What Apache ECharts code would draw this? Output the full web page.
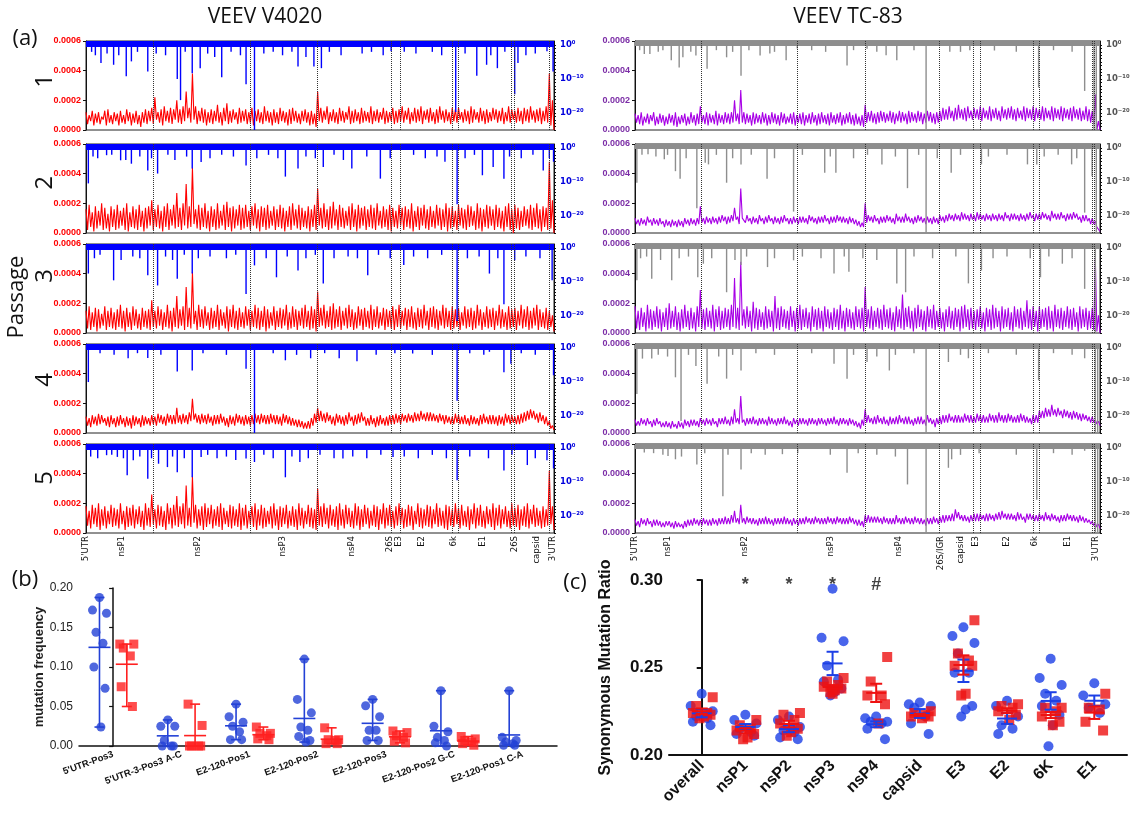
<!DOCTYPE html>
<html><head><meta charset="utf-8">
<script src="https://cdn.jsdelivr.net/npm/echarts@6/dist/echarts.min.js"></script>
<style>html,body{margin:0;padding:0;background:#fff}#c{width:1139px;height:826px}</style>
</head><body><div id="c"></div>
<script>
// ---------- panel (a): mutation frequency (units of 1e-5), upper / lower value in each of 150 genome windows ----------
const hiV1 = [12,10,13,11,12,9,13,14,10,12, 11,13,10,14,12,11,13,10,12,14, 13,15,22,12,14,16,13,15,14,20, 14,16,26,15,38,16,13,15,14,12, 14,13,17,12,15,18,13,14,12,15, 13,14,12,15,13,14,12,16,13,12, 14,12,15,13,12,14,15,13,11,13, 14,12,13,11,26,15,13,16,12,14, 12,15,13,12,16,13,14,12,15,13, 12,16,13,14,12,15,13,12,15,13, 14,16,13,15,12,15,14,16,13,14, 15,12,14,16,13,14,12,15,14,15, 12,14,13,16,14,12,15,13,14,12, 15,14,13,15,12,16,14,13,15,13, 15,14,16,13,14,15,13,16,38,20];
const loV1 = [4,6,3,5,4,7,3,5,4,6, 3,5,4,6,3,5,4,2,5,4, 6,4,7,5,3,6,5,4,7,5, 4,6,8,5,7,4,6,5,3,5, 4,6,5,3,6,4,5,7,4,5, 6,4,5,3,6,5,4,6,5,3, 5,4,6,5,3,4,6,5,4,6, 5,3,4,2,6,5,7,4,6,5, 4,6,5,7,4,5,6,4,5,6, 5,4,6,5,7,4,5,6,4,5, 6,5,7,4,6,5,6,4,7,5, 6,4,5,7,5,6,4,6,5,7, 5,6,4,5,7,5,6,4,5,6, 7,5,6,4,6,5,7,5,6,4, 6,5,7,5,6,4,6,5,3,0];
const hiV2 = [16,19,14,18,15,20,17,13,18,16, 19,15,17,20,14,18,16,19,15,17, 18,22,16,19,15,18,20,16,19,27, 17,20,33,18,44,16,19,17,20,15, 18,16,20,15,19,21,17,18,16,19, 17,19,15,18,20,16,18,17,19,15, 18,16,19,17,15,18,20,16,19,17, 15,18,16,19,30,17,20,16,18,21, 16,19,17,15,18,20,16,19,17,18, 16,19,17,20,15,18,16,19,17,15, 19,17,18,16,20,15,18,17,19,16, 18,15,19,17,16,20,17,18,15,19, 17,16,19,18,15,20,17,16,19,18, 16,19,17,15,18,20,16,19,17,15, 18,16,19,17,20,16,18,17,48,22];
const loV2 = [2,4,1,3,5,2,3,1,4,2, 3,5,2,1,4,3,2,4,1,3, 5,2,4,3,1,4,2,5,3,4, 2,5,3,4,6,3,2,4,3,1, 4,2,3,5,2,4,1,3,5,2, 3,4,2,5,3,1,4,2,3,5, 2,4,3,1,4,2,5,3,2,4, 3,1,4,2,5,3,4,2,3,5, 2,4,3,5,2,4,1,3,5,2, 4,3,2,5,3,4,2,1,4,3, 5,2,4,3,1,4,2,5,3,2, 4,3,5,2,4,1,3,4,2,5, 3,2,4,5,2,3,1,4,3,5, 2,4,3,1,4,2,0,3,2,4, 5,3,2,4,3,1,4,2,3,0];
const hiV3 = [15,18,14,17,16,13,18,15,17,14, 16,19,15,17,14,18,16,13,17,15, 16,22,15,18,16,14,19,15,17,25, 16,18,31,17,41,15,19,16,18,14, 17,15,19,16,14,18,16,19,15,17, 14,18,16,15,19,17,15,18,16,14, 18,15,17,16,19,14,18,16,15,17, 19,15,18,16,28,17,19,15,18,20, 16,18,15,17,19,16,14,18,16,17, 15,19,16,18,14,17,16,15,18,16, 19,15,17,16,18,14,17,16,19,15, 17,18,16,15,19,17,15,18,16,17, 14,18,16,17,15,19,16,14,18,16, 17,15,19,16,14,18,16,17,15,19, 16,18,15,17,19,16,14,17,15,12];
const loV3 = [3,2,4,1,3,5,2,4,3,2, 4,3,1,4,2,5,3,2,4,3, 2,4,3,5,2,4,3,1,4,3, 5,2,4,3,6,2,4,3,5,2, 3,4,2,5,3,1,4,3,2,4, 3,5,2,4,3,2,4,1,3,5, 2,4,3,5,2,3,4,2,5,3, 4,2,3,1,4,5,3,4,2,3, 4,2,5,3,4,2,3,5,2,4, 3,2,4,3,5,2,4,3,2,4, 3,5,2,4,3,2,4,3,5,2, 4,3,2,5,3,4,2,3,4,2, 5,3,4,2,3,5,2,4,3,4, 2,5,3,4,2,3,4,2,5,3, 4,2,3,5,2,4,3,2,4,1];
const hiV4 = [11,10,12,11,13,12,10,11,12,10, 11,12,10,11,10,12,11,10,12,11, 10,12,11,13,12,11,13,12,12,17, 12,13,12,14,23,13,12,13,12,13, 11,12,12,13,11,10,12,11,13,12, 11,12,11,12,13,12,13,12,12,13, 12,12,11,13,12,11,10,9,9,8, 7,8,10,13,17,15,13,14,12,11, 13,12,11,12,14,11,12,13,14,11, 10,12,10,11,12,10,11,12,12,13, 12,13,12,13,12,14,13,15,13,14, 14,13,12,13,12,12,11,11,13,12, 11,12,10,12,11,10,12,13,11,12, 12,11,12,11,13,12,12,11,12,13, 14,15,16,15,13,14,12,11,8,5];
const loV4 = [5,4,6,5,6,7,5,4,6,4, 5,6,4,5,3,5,6,4,5,6, 5,6,5,7,6,5,7,6,6,7, 6,7,6,8,9,7,6,7,6,7, 5,6,6,7,5,4,6,5,7,6, 5,6,5,6,7,6,7,6,6,7, 6,6,5,7,6,5,5,4,4,3, 3,3,5,7,8,8,7,8,6,5, 7,6,5,6,8,5,6,7,8,5, 5,6,4,5,6,5,5,6,6,7, 6,8,7,8,7,8,8,9,8,8, 8,8,7,8,6,7,6,6,7,6, 6,6,5,6,6,5,6,7,6,6, 6,5,6,5,7,6,7,6,6,7, 8,9,10,9,7,8,6,5,3,2];
const hiV5 = [18,15,19,17,20,16,18,15,19,17, 16,20,15,18,17,19,16,18,15,20, 17,26,16,19,18,15,20,17,19,25, 18,20,32,17,38,19,16,18,20,17, 19,16,18,20,17,15,19,18,16,20, 17,19,15,18,20,16,19,17,15,18, 20,16,18,17,19,15,18,16,20,17, 15,19,17,16,30,18,20,17,19,16, 18,20,16,19,17,15,20,18,16,19, 17,15,19,18,16,20,17,19,15,18, 20,17,16,19,18,15,20,17,16,19, 18,16,20,17,15,19,18,16,20,17, 19,15,18,16,20,17,19,15,18,16, 20,17,19,16,18,15,20,17,19,16, 18,20,16,19,17,15,18,16,42,18];
const loV5 = [5,3,6,4,2,5,3,6,4,5, 3,6,2,4,5,3,6,4,2,5, 4,6,3,5,4,2,6,3,5,4, 6,3,5,4,7,3,5,2,4,6, 3,5,4,2,6,4,3,5,4,2, 5,3,6,4,2,5,3,4,6,3, 5,2,4,6,3,5,4,2,5,3, 6,4,3,2,5,4,6,3,5,4, 2,5,3,6,4,3,5,2,4,6, 3,5,4,2,6,3,5,4,3,5, 6,3,4,5,2,6,4,3,5,4, 3,6,4,5,3,2,5,4,6,3, 5,4,2,6,3,5,4,3,6,4, 2,5,3,6,4,3,5,4,2,5, 4,3,6,4,5,3,4,5,6,2];
const hiT1 = [11,10,12,9,11,10,12,9,11,10, 9,11,10,12,9,10,11,9,12,10, 11,16,10,12,11,10,13,11,10,12, 11,12,20,11,27,12,11,10,12,11, 10,12,11,10,12,11,10,12,11,9, 11,12,10,11,12,10,11,12,10,11, 12,10,11,12,10,11,12,10,11,12, 10,11,9,10,17,12,13,11,12,13, 12,11,13,12,11,13,12,11,13,12, 11,13,12,11,13,12,11,12,13,15, 14,16,13,15,17,14,15,16,13,15, 14,16,15,13,16,14,15,13,16,14, 15,16,14,15,13,16,15,14,16,15, 14,16,15,13,16,15,14,16,15,14, 15,16,14,15,13,16,14,13,24,6];
const loT1 = [5,4,3,5,4,6,3,4,5,3, 4,5,3,2,4,5,3,4,5,3, 4,5,4,3,5,4,3,5,4,5, 4,5,6,4,5,4,5,3,4,5, 4,5,3,4,5,4,3,5,4,5, 4,3,5,4,3,5,4,5,3,4, 5,4,3,5,4,5,3,4,5,4, 3,4,3,2,5,6,5,4,5,6, 5,6,5,4,6,5,6,4,5,6, 5,6,4,5,6,5,4,5,6,7, 7,8,6,7,8,7,6,8,7,8, 7,6,8,7,6,8,7,6,8,7, 8,7,6,8,7,6,8,7,6,8, 7,6,8,7,6,8,7,6,8,7, 6,8,7,6,7,6,5,4,0,0];
const hiT2 = [10,9,10,9,11,9,10,9,10,8, 9,8,9,8,9,8,10,9,10,9, 10,18,10,11,10,11,10,11,12,11, 11,12,17,11,30,11,12,10,11,10, 12,10,11,12,10,11,10,11,12,10, 10,11,10,11,11,10,12,11,10,11, 11,12,10,11,11,12,11,11,10,11, 10,9,8,7,20,12,11,12,10,11, 11,12,11,10,13,11,11,13,11,10, 11,12,11,10,11,10,11,10,12,11, 12,13,12,13,12,14,13,12,13,12, 14,13,12,13,12,13,12,13,12,14, 12,13,13,12,13,12,13,14,12,13, 13,14,13,12,15,13,13,14,12,13, 13,14,13,11,12,12,10,10,8,4];
const loT2 = [6,5,6,5,7,5,6,5,6,4, 5,4,5,4,5,4,6,5,6,5, 6,7,6,7,6,7,6,7,8,6, 7,8,9,6,10,7,8,6,7,6, 8,6,7,8,6,7,6,7,8,6, 6,7,6,7,7,6,8,7,6,7, 7,8,6,7,7,8,7,7,6,7, 6,5,4,4,7,8,7,8,6,7, 7,8,7,6,8,7,7,8,7,6, 7,8,7,6,7,6,7,6,8,7, 8,9,8,9,8,9,9,8,9,8, 9,9,8,9,8,9,8,9,8,10, 8,9,9,8,9,8,9,10,8,9, 9,10,9,8,10,9,9,10,8,9, 9,10,9,7,8,8,6,6,4,1];
const hiT3 = [18,15,17,14,19,16,15,18,16,14, 17,20,15,18,14,16,19,15,17,14, 18,29,16,17,15,19,16,18,15,17, 16,19,37,17,48,16,18,15,21,17, 16,14,18,16,15,25,17,18,16,15, 18,15,17,19,16,17,14,18,16,17, 15,18,16,14,17,16,19,15,17,16, 14,18,16,17,31,16,18,15,17,16, 19,16,17,14,18,16,26,17,18,15, 17,19,16,15,18,16,19,15,17,14, 16,18,15,17,16,18,19,16,17,15, 16,18,14,17,16,19,17,15,18,16, 17,14,18,16,17,15,22,16,18,15, 18,16,17,18,15,19,16,17,15,18, 16,17,14,18,16,17,15,17,50,12];
const loT3 = [3,2,4,1,3,2,4,3,1,4, 2,3,4,2,1,3,4,2,3,1, 4,3,2,4,3,1,4,2,3,4, 2,4,3,2,5,3,4,1,3,2, 4,2,3,4,1,3,2,4,3,2, 4,1,3,2,4,3,1,4,2,3, 1,4,3,2,4,2,3,1,4,3, 2,4,3,1,4,3,2,4,3,2, 4,3,2,1,4,3,2,4,3,1, 3,4,2,1,4,3,2,4,3,1, 4,3,2,4,1,3,4,2,3,2, 4,3,1,4,2,3,4,1,3,4, 2,1,4,3,2,4,3,2,4,1, 3,4,2,3,1,4,3,2,4,3, 2,4,1,3,4,2,3,2,1,0];
const hiT4 = [9,8,10,9,10,8,9,10,8,7, 8,7,8,6,8,7,9,8,9,9, 8,10,9,10,9,10,8,10,10,11, 9,11,16,10,25,9,10,10,11,9, 10,10,9,11,10,9,10,10,11,9, 8,10,9,10,10,9,10,10,9,10, 10,9,10,10,11,9,10,10,9,10, 9,8,7,9,16,12,10,11,12,10, 11,9,11,10,11,12,10,11,11,9, 10,11,11,9,12,10,9,10,11,12, 12,13,11,12,12,11,13,12,12,11, 13,12,12,11,13,12,12,14,12,12, 13,12,11,12,13,12,11,10,12,12, 15,15,17,16,19,16,17,15,16,15, 14,15,14,13,13,12,11,11,9,8];
const loT4 = [5,5,6,5,6,4,5,6,4,4, 4,3,4,3,4,3,5,4,5,5, 4,6,5,6,5,6,4,6,6,6, 5,6,7,6,7,5,6,6,6,5, 6,6,5,6,6,5,6,6,6,5, 4,6,5,6,6,5,6,6,5,6, 6,5,6,6,6,5,6,6,5,6, 5,4,3,5,7,7,6,6,7,6, 6,5,6,6,6,7,6,6,6,5, 6,6,6,5,7,6,4,6,6,7, 7,8,7,7,7,7,8,7,7,7, 8,7,7,7,8,7,7,8,7,7, 8,7,7,7,8,7,7,6,7,7, 10,10,11,11,12,11,12,10,11,10, 9,10,9,8,9,8,7,7,6,5];
const hiT5 = [9,8,10,9,10,8,9,9,8,7, 8,8,7,8,7,6,8,9,9,10, 9,9,10,9,9,10,9,10,10,11, 10,12,15,10,19,10,11,10,10,9, 10,10,11,10,9,10,10,10,11,10, 9,10,9,10,10,11,10,10,11,10, 10,10,11,10,10,11,10,10,10,11, 10,9,9,8,12,12,11,11,11,10, 11,10,10,10,12,10,10,11,10,10, 11,10,10,9,10,10,11,10,11,12, 12,12,13,16,14,12,12,11,12,13, 13,13,12,13,13,12,13,14,15,13, 13,13,12,14,13,11,13,13,12,12, 13,12,14,12,13,12,11,12,12,13, 12,12,11,12,11,10,9,8,7,6];
const loT5 = [5,4,6,5,6,4,5,5,4,4, 5,4,3,4,4,3,4,5,5,6, 5,5,6,5,5,6,5,6,6,6, 6,7,7,6,7,6,7,6,6,5, 6,6,6,6,5,6,6,6,6,6, 5,6,5,6,6,7,6,6,7,6, 6,6,7,6,6,7,6,6,6,7, 6,5,5,4,7,7,7,7,7,6, 7,6,6,6,7,6,6,7,6,6, 7,6,6,5,6,6,7,6,7,7, 8,8,8,10,9,8,8,7,8,8, 8,9,8,8,9,8,9,9,10,9, 9,9,8,9,9,7,9,9,8,8, 9,8,9,8,9,8,7,8,8,9, 8,8,7,8,7,7,6,5,4,3];

// p-value spikes: [genome position (0-1000), -log10(p)]
const spikesV1 = [[32,5.3],[59,5.8],[86,9.2],[97,4.8],[132,7.8],[195,10],[202,16.2],[227,8.3],[244,6.8],[290,9.5],[342,11.5],[360,25],[453,6.3],[487,6.3],[503,6.8],[652,1.8],[790,19.7],[835,9],[856,5.8],[879,6.8],[916,14.5],[923,5.3],[985,1.8],[998,7.8],
[12,2],[20,3],[45,2.5],[70,3],[110,2],[150,2.5],[170,3],[212,2],[260,2.5],[275,3.5],[310,2],[330,3],[380,2.5],[400,2],[420,3],[440,2],[470,3.5],[520,2],[545,3],[590,2.5],[610,2],[635,3],[680,2],[705,2.5],[740,2],[760,3],[810,2.5],[865,3],[895,2],[940,3],[960,2.5]];
const spikesV2 = [[5,10.4],[44,2.1],[74,3.6],[97,4.6],[132,6.6],[153,7.5],[227,6],[246,4.1],[342,5.1],[426,8.4],[453,6],[507,5.6],[568,6],[629,9],[767,4],[793,16.5],[847,8],[870,5.6],[893,9],[977,6.6],[999,4],
[15,2.5],[25,3],[55,2],[85,3.5],[115,2.5],[140,3],[175,2],[190,3.5],[215,2.5],[265,3],[290,2],[315,2.5],[365,3],[390,2],[410,3],[470,2.5],[490,3],[530,2],[550,3.5],[600,2.5],[650,3],[700,2],[725,3],[750,2.5],[810,3],[830,2],[905,2.5],[930,3],[955,2],[990,3]];
const spikesV3 = [[5,7.5],[59,9.5],[132,8],[153,11],[195,9],[227,7.5],[342,13.5],[360,5.1],[407,8.6],[453,6.6],[507,10.4],[602,8],[679,5],[793,21.5],[862,7.5],[893,16.5],[916,3.6],[996,9.5],
[18,3],[30,2],[75,3.5],[100,2.5],[115,3],[170,2.5],[185,3.5],[210,2],[240,3],[265,2.5],[300,3],[320,2],[385,3],[430,2.5],[470,3],[490,2],[530,3],[560,2.5],[580,3],[625,2],[650,3],[700,2.5],[730,3],[760,2],[815,3],[840,2.5],[880,3],[940,2.5],[970,3]];
const spikesV4 = [[5,10],[90,3],[132,2.9],[195,6.9],[227,6.6],[342,6.1],[360,25],[426,3.6],[480,3],[541,3],[579,3.9],[698,1.6],[793,15.5],[862,1.1],[893,7.1],[908,4.6],[989,0.5],[999,8],
[30,1.5],[60,2],[110,1.5],[160,2],[250,1.5],[300,2],[400,1.5],[450,2],[510,1.5],[620,2],[660,1.5],[740,2],[820,1.5],[850,2],[930,1.5],[960,2]];
const spikesV5 = [[44,2.1],[67,2.6],[88,8],[101,3.6],[132,9],[155,4.6],[174,5.6],[195,7.1],[227,8.6],[246,2.6],[342,3.1],[360,4.1],[426,8.6],[457,4.1],[549,3.1],[656,2.6],[793,9.5],[893,6.6],[943,5],[985,3.6],[999,6],
[10,2.5],[25,3],[55,2],[80,3],[115,2.5],[140,3],[185,2.5],[210,3],[260,2],[280,3],[300,2.5],[320,3.5],[380,2],[400,3],[440,2.5],[475,3],[500,2],[530,3],[570,2.5],[600,3],[630,2],[680,2.5],[710,3],[740,2],[770,3],[820,2.5],[860,3],[910,2],[960,3]];
const spikesT1 = [[20,2.6],[32,2.6],[78,4.5],[95,6.6],[103,3.6],[131,3.1],[143,1],[155,7],[197,3.6],[228,9],[269,3.1],[325,4.5],[349,1],[456,6],[499,1.1],[563,4.5],[626,25],[677,2],[773,1.6],[868,12.5],[967,13.5],[987,25],[992,25],
[10,1.5],[50,2],[60,1.5],[120,2],[175,1.5],[210,2],[245,1.5],[290,2.5],[300,2],[380,1.5],[410,2],[470,1.5],[520,2],[540,3],[600,1.5],[700,2],[720,1.5],[820,2],[900,1.5],[940,2]];
const spikesT2 = [[4,10.2],[28,1.8],[63,3.3],[87,6.8],[97,9],[133,17.7],[151,4.3],[158,4.8],[197,10.2],[228,4.8],[284,9],[341,18.7],[408,7.3],[432,7.3],[531,4.8],[586,11.8],[626,25],[680,7.3],[745,4.8],[844,4.8],[864,4.8],[939,4.8],[967,19],[983,8.3],[992,25],
[15,2],[45,2.5],[70,2],[110,3],[175,2],[210,3],[250,2],[300,3],[360,2],[420,2.5],[470,3],[500,2],[560,2.5],[610,2],[650,3],[700,2],[760,2.5],[800,2],[880,2.5],[910,2],[950,3]];
const spikesT3 = [[4,9.5],[36,9],[79,9.5],[135,8.6],[147,4.6],[197,13],[228,5],[285,5.6],[341,3.6],[428,7.5],[460,7],[563,10.4],[582,13],[717,10.4],[745,6.6],[872,8.6],[919,4.6],[967,12],[990,25],
[12,3],[25,2.5],[55,3.5],[95,3],[115,2.5],[165,3],[215,3.5],[240,2.5],[300,3],[360,2.5],[400,3],[450,2.5],[490,3],[520,3.5],[600,2.5],[640,3],[690,2.5],[770,3],[800,2.5],[850,3],[890,2.5],[940,3]];
const spikesT4 = [[4,13.5],[16,3.1],[36,3.1],[87,8.6],[99,21.5],[131,5.3],[155,10.5],[197,9],[228,6.6],[428,4.6],[456,9],[499,4.1],[547,6.6],[626,25],[674,4.1],[717,3],[868,9.5],[967,3],[990,25],[995,25],
[50,2],[70,2.5],[115,2],[180,2.5],[210,2],[260,1.5],[300,2],[380,1.5],[470,2],[520,2.5],[560,2],[600,1.5],[700,2],[760,1.5],[820,2],[900,1.5],[940,2]];
const spikesT5 = [[20,1.3],[71,2.3],[87,3.3],[133,4.8],[189,14.2],[228,6.3],[317,1.8],[456,7.3],[586,10.7],[626,25],[674,5.8],[681,3.3],[864,15.2],[967,0.8],[990,25],[995,25],
[40,1.5],[60,2],[100,2.5],[150,1.5],[200,2],[250,1.5],[280,2],[350,1.5],[420,2],[480,1.5],[520,2],[560,2.5],[700,2],[740,1.5],[820,2],[900,1.5],[940,2]];

const boundariesV = [143,350,495,653,671,782,795,909,916,990];
const boundariesT = [143,349,495,654,727,743,856,869,983,988];
const genesV = ["5'UTR","nsP1","nsP2","nsP3","nsP4","26S","E3","E2","6k","E1","26S","capsid","3'UTR"];
const genePosV = [0,75,239,419,568,648,667,717,786,847,916,962,996];
const genesT = ["5'UTR","nsP1","nsP2","nsP3","nsP4","26S/IGR","capsid","E3","E2","6k","E1","3'UTR"];
const genePosT = [0,71,235,420,567,658,701,733,800,860,931,990];
const pTickLabels = ['10\u2070','10\u207B\u00B9\u2070','10\u207B\u00B2\u2070'];
const passages = ['1','2','3','4','5'];

// ---------- panel (b) ----------
const catsB = ["5'UTR-Pos3","5'UTR-3-Pos3 A-C","E2-120-Pos1","E2-120-Pos2","E2-120-Pos3","E2-120-Pos2 G-C","E2-120-Pos1 C-A"];
const freqBlue = [
 [0.188,0.172,0.168,0.144,0.130,0.100,0.073,0.024],
 [0.033,0.025,0.025,0.007,0,0,0],
 [0.053,0.037,0.030,0.025,0.018,0.008,0.008],
 [0.110,0.059,0.042,0.024,0.020,0.012,0.007,0.005],
 [0.059,0.051,0.037,0.020,0.020,0.007,0.007],
 [0.070,0.025,0.018,0.011,0.007,0.004,0],
 [0.070,0.011,0.007,0.005,0.003,0.001,0.001]];
const freqRed = [
 [0.129,0.129,0.124,0.114,0.075,0.050],
 [0.053,0.026,0,0,0,0],
 [0.024,0.016,0.016,0.013,0.009,0.008],
 [0.023,0.008,0.008,0.007,0.003,0.003],
 [0.019,0.017,0.013,0.011,0.006,0.004],
 [0.012,0.009,0.007,0.005,0.003,0.001],
 []];

// ---------- panel (c) ----------
const catsC = ['overall','nsP1','nsP2','nsP3','nsP4','capsid','E3','E2','6K','E1'];
const ratioBlue = [
 [0.235,0.228,0.225,0.222,0.221,0.219,0.217],
 [0.223,0.220,0.218,0.215,0.213,0.212,0.211],
 [0.222,0.220,0.216,0.214,0.213,0.210,0.209],
 [0.295,0.267,0.265,0.251,0.243,0.242,0.238,0.236,0.234],
 [0.222,0.221,0.219,0.219,0.218,0.215,0.209],
 [0.230,0.229,0.228,0.227,0.222,0.218,0.212],
 [0.273,0.268,0.264,0.258,0.247,0.247,0.228,0.226,0.222],
 [0.231,0.228,0.222,0.217,0.215,0.212],
 [0.255,0.244,0.240,0.235,0.231,0.228,0.223,0.217,0.205],
 [0.241,0.234,0.229,0.227,0.224]];
const ratioRed = [
 [0.233,0.228,0.224,0.223,0.222,0.221,0.224],
 [0.220,0.217,0.215,0.214,0.212,0.210,0.209],
 [0.224,0.223,0.220,0.218,0.215,0.213,0.211],
 [0.244,0.242,0.240,0.239,0.238,0.237,0.236,0.235],
 [0.256,0.242,0.234,0.234,0.229,0.218],
 [0.225,0.224,0.223,0.222,0.222,0.221],
 [0.277,0.258,0.254,0.251,0.251,0.235,0.234],
 [0.229,0.227,0.225,0.223,0.220,0.228],
 [0.227,0.227,0.225,0.222,0.219,0.217],
 [0.235,0.227,0.226,0.219,0.214]];
const sigMarks = ['','*','*','*','#','','','','',''];

// ================= build =================
const chart = echarts.init(document.getElementById('c'), null, {renderer:'canvas'});
const grids=[], xAxes=[], yAxes=[], series=[];
const cols = [{left:86,width:468},{left:635,width:465}];
const rowTops = [41,144,244,344,444], rowH = 89;
const panels = [
 [hiV1,loV1,spikesV1],[hiV2,loV2,spikesV2],[hiV3,loV3,spikesV3],[hiV4,loV4,spikesV4],[hiV5,loV5,spikesV5],
 [hiT1,loT1,spikesT1],[hiT2,loT2,spikesT2],[hiT3,loT3,spikesT3],[hiT4,loT4,spikesT4],[hiT5,loT5,spikesT5]];
const decades = []; for (let d=0; d<=25; d++) decades.push(d);
const FONT = '"Liberation Sans",Arial,sans-serif';

panels.forEach((p,k)=>{
  const col = k<5?0:1, row = k%5, isL = col===0;
  const genes = isL?genesV:genesT, gpos = isL?genePosV:genePosT, bnd = isL?boundariesV:boundariesT;
  // dense trace: window maximum followed by window minimum
  const trace = [];
  p[0].forEach((h,i)=>{ trace.push(h); trace.push(p[1][i]); });
  const gi = grids.length;
  grids.push({left:cols[col].left, top:rowTops[row], width:cols[col].width, height:rowH,
    show:true, borderColor:'#222', borderWidth:1, backgroundColor:'transparent'});
  const xc = xAxes.length;
  xAxes.push({gridIndex:gi, type:'category', position:'bottom', data:trace.map((_,i)=>i), boundaryGap:false, show:false});
  const xv = xAxes.length;
  xAxes.push({gridIndex:gi, type:'value', position:'bottom', min:0, max:1000, axisLine:{show:false}, axisTick:{show:false}, splitLine:{show:false},
    axisLabel: row===4 ? {show:true, customValues:gpos, formatter:v=>genes[gpos.indexOf(v)], rotate:90, fontSize:9.5,
      fontFamily:'"Liberation Sans Narrow","DejaVu Sans Condensed",sans-serif', color:'#111', margin:3} : {show:false}});
  const yl = yAxes.length;
  yAxes.push({gridIndex:gi, type:'value', position:'left', min:0, max:60, interval:20,
    axisLine:{show:true, lineStyle:{color:'#111', width:1}}, axisTick:{show:true, length:3, lineStyle:{color:'#111'}},
    splitLine:{show:false},
    axisLabel:{formatter:v=>(v/100000).toFixed(4), color: isL?'#ff0000':'#7b2ca6', fontSize:9, fontWeight:'bold',
      fontFamily:FONT, margin:5}});
  const yr = yAxes.length;
  yAxes.push({gridIndex:gi, type:'value', position:'right', inverse:true, min:-1.2, max:25,
    axisLine:{show:true, lineStyle:{color:'#111', width:1}},
    axisTick:{show:true, customValues:decades, length:2, lineStyle:{color:'#111'}},
    splitLine:{show:false},
    axisLabel:{customValues:[0,10,20], formatter:v=>pTickLabels[v/10], color: isL?'#0000dd':'#555', fontSize:8.5, fontWeight:'bold',
      fontFamily:'"DejaVu Sans",sans-serif', margin:6}});
  const barCol = isL?'#0000ff':'#8e8e8e';
  series.push({type:'line', xAxisIndex:xc, yAxisIndex:yl, data:trace, symbol:'none', showSymbol:false,
    lineStyle:{width:1.1, color: isL?'#ff0000':'#a800e6'}, z:2, animation:false, silent:true});
  series.push({type:'bar', xAxisIndex:xv, yAxisIndex:yr, data:p[2], barWidth:1.4,
    itemStyle:{color:barCol}, z:3, animation:false, silent:true,
    markArea:{silent:true, itemStyle:{color:barCol, opacity:1}, data:[[{yAxis:-1.2},{yAxis:isL?0.6:0.3}]]},
    markLine:{silent:true, symbol:'none', animation:false, label:{show:false},
      lineStyle:{type:'dotted', color:'#333', width:1}, data:bnd.map(b=>({xAxis:b}))}});
});

// ---- deterministic horizontal spread of dots (layout only) ----
const spreadPattern = [0, -1, 1, -0.5, 0.5, -0.8, 0.8, 0.2, -0.2];
function spread(vals, halfPx, phase){
  const order = vals.map((v,i)=>i).sort((a,b)=>vals[b]-vals[a]);
  const out = new Array(vals.length).fill(0);
  order.forEach((idx,r)=>{ out[idx] = spreadPattern[(r+phase)%spreadPattern.length]*halfPx; });
  return out; // px
}
function meanOf(a){ return a.reduce((s,v)=>s+v,0)/a.length; }
function semOf(a){ const m=meanOf(a); return Math.sqrt(a.reduce((s,v)=>s+(v-m)*(v-m),0)/(a.length-1))/Math.sqrt(a.length); }

function errSeries(xi, yi, data, color, hw, cw, lw){
  return {type:'custom', xAxisIndex:xi, yAxisIndex:yi, data, z:6, animation:false, silent:true,
    renderItem:(params, api)=>{
      const x=api.value(0), pm=api.coord([x,api.value(1)]), pl=api.coord([x,api.value(2)]), ph=api.coord([x,api.value(3)]);
      const st={stroke:color, lineWidth:lw};
      return {type:'group', children:[
        {type:'line', shape:{x1:pm[0]-hw,y1:pm[1],x2:pm[0]+hw,y2:pm[1]}, style:st},
        {type:'line', shape:{x1:pl[0],y1:pl[1],x2:ph[0],y2:ph[1]}, style:st},
        {type:'line', shape:{x1:pl[0]-cw,y1:pl[1],x2:pl[0]+cw,y2:pl[1]}, style:st},
        {type:'line', shape:{x1:ph[0]-cw,y1:ph[1],x2:ph[0]+cw,y2:ph[1]}, style:st}]};
    }};
}

// ---- panel (b) ----
const gB = grids.length;
grids.push({left:79, top:588, width:478, height:158});
const bCatPx = 478/7;
const xB = xAxes.length;
xAxes.push({gridIndex:gB, type:'value', position:'bottom', min:-0.5, max:6.5,
  axisLine:{show:true, onZero:false, lineStyle:{color:'#111', width:1.5}}, axisTick:{show:false}, splitLine:{show:false},
  axisLabel:{customValues:[0,1,2,3,4,5,6], formatter:v=>catsB[v], rotate:20, fontSize:9.5, fontWeight:'bold', color:'#111',
    fontFamily:FONT, margin:8}});
const yB = yAxes.length;
yAxes.push({gridIndex:gB, type:'value', min:0, max:0.2, interval:0.05,
  axisLine:{show:true, lineStyle:{color:'#111', width:1.5}}, axisTick:{show:true, length:4, lineStyle:{color:'#111', width:1.2}},
  splitLine:{show:false},
  axisLabel:{formatter:v=>v.toFixed(2), fontSize:12, color:'#222', fontFamily:FONT, margin:6},
  name:'mutation frequency', nameLocation:'middle', nameGap:30, nameRotate:90,
  nameTextStyle:{fontSize:13, fontWeight:'bold', color:'#222', fontFamily:FONT}});
const bBluePts=[], bRedPts=[], bBlueErr=[], bRedErr=[];
catsB.forEach((c,i)=>{
  const ob = spread(freqBlue[i], 7, 0);
  freqBlue[i].forEach((v,j)=>bBluePts.push([i-0.2+ob[j]/bCatPx, v]));
  bBlueErr.push([i-0.2, meanOf(freqBlue[i]), Math.min(...freqBlue[i]), Math.max(...freqBlue[i])]);
  if (freqRed[i].length){
    const orr = spread(freqRed[i], 7, 1);
    freqRed[i].forEach((v,j)=>bRedPts.push([i+0.2+orr[j]/bCatPx, v]));
    bRedErr.push([i+0.2, meanOf(freqRed[i]), Math.min(...freqRed[i]), Math.max(...freqRed[i])]);
  }
});
series.push({type:'scatter', xAxisIndex:xB, yAxisIndex:yB, data:bBluePts, symbol:'circle', symbolSize:9, itemStyle:{color:'#2341d6'}, z:4, animation:false, silent:true});
series.push({type:'scatter', xAxisIndex:xB, yAxisIndex:yB, data:bRedPts, symbol:'rect', symbolSize:9, itemStyle:{color:'#ff2020'}, z:4, animation:false, silent:true});
series.push(errSeries(xB, yB, bBlueErr, '#2341d6', 11, 5, 1.6));
series.push(errSeries(xB, yB, bRedErr, '#ff2020', 11, 5, 1.6));

// ---- panel (c) ----
const gC = grids.length;
grids.push({left:669, top:580, width:458, height:175});
const cCatPx = 458/10.5;
const xC = xAxes.length;
xAxes.push({gridIndex:gC, type:'value', position:'bottom', min:-0.75, max:9.75,
  axisLine:{show:true, onZero:false, lineStyle:{color:'#111', width:2}}, axisTick:{show:false}, splitLine:{show:false},
  axisLabel:{customValues:[0,1,2,3,4,5,6,7,8,9], formatter:v=>catsC[v], rotate:45, fontSize:16, fontWeight:'bold', color:'#111',
    fontFamily:FONT, margin:8}});
const yC = yAxes.length;
yAxes.push({gridIndex:gC, type:'value', min:0.2, max:0.3, interval:0.05,
  axisLine:{show:true, lineStyle:{color:'#111', width:2}}, axisTick:{show:true, length:5, lineStyle:{color:'#111', width:2}},
  splitLine:{show:false},
  axisLabel:{formatter:v=>v.toFixed(2), fontSize:17, fontWeight:'bold', color:'#111', fontFamily:FONT, margin:6},
  name:'Synonymous Mutation Ratio', nameLocation:'middle', nameGap:55, nameRotate:90,
  nameTextStyle:{fontSize:16, fontWeight:'bold', color:'#111', fontFamily:'"Liberation Sans Narrow","Liberation Sans",sans-serif'}});
const cBluePts=[], cRedPts=[], cBlueErr=[], cRedErr=[];
catsC.forEach((c,i)=>{
  const ob = spread(ratioBlue[i], 11, 0), orr = spread(ratioRed[i], 11, 2);
  ratioBlue[i].forEach((v,j)=>cBluePts.push([i+ob[j]/cCatPx, v]));
  ratioRed[i].forEach((v,j)=>cRedPts.push([i+orr[j]/cCatPx, v]));
  const mb=meanOf(ratioBlue[i]), sb=semOf(ratioBlue[i]), mr=meanOf(ratioRed[i]), sr=semOf(ratioRed[i]);
  cBlueErr.push([i, mb, mb-sb, mb+sb]);
  cRedErr.push([i, mr, mr-sr, mr+sr]);
});
series.push({type:'scatter', xAxisIndex:xC, yAxisIndex:yC, data:cBluePts, symbol:'circle', symbolSize:10, itemStyle:{color:'#1c3fe6'}, z:4, animation:false, silent:true});
series.push({type:'scatter', xAxisIndex:xC, yAxisIndex:yC, data:cRedPts, symbol:'rect', symbolSize:10, itemStyle:{color:'#ee1111'}, z:5, animation:false, silent:true});
series.push(errSeries(xC, yC, cBlueErr, '#1c3fe6', 10, 6, 2));
series.push(errSeries(xC, yC, cRedErr, '#ee1111', 10, 6, 2));
series.push({type:'scatter', xAxisIndex:xC, yAxisIndex:yC, symbolSize:0, animation:false, silent:true, z:7,
  data: sigMarks.map((s,i)=>s?[i,0.297,s]:null).filter(Boolean),
  label:{show:true, position:'inside', formatter:p=>p.value[2], fontSize:18, fontWeight:'bold', color:'#111', fontFamily:FONT}});

// ---- free text ----
const txt = (text, x, y, size, extra) => Object.assign({type:'text', x, y,
  style:{text, fontSize:size, fill:'#111', fontFamily:'"Open Sans","Noto Sans",sans-serif', textAlign:'center', textVerticalAlign:'middle'}}, extra||{});
const graphics = [
  txt('VEEV V4020', 265, 17, 21),
  txt('VEEV TC-83', 848, 17, 21),
  txt('(a)', 25, 39, 22),
  txt('(b)', 25, 580, 22),
  txt('(c)', 575, 583, 22),
  txt('Passage', 17, 297, 22, {rotation:Math.PI/2})
];
const rowLabelY = [81,183,276,380,478];
passages.forEach((p,i)=>graphics.push(txt(p, 45, rowLabelY[i], 24, {rotation:Math.PI/2})));

chart.setOption({backgroundColor:'#fff', animation:false, grid:grids, xAxis:xAxes, yAxis:yAxes, series, graphic:graphics});
</script>
</body></html>
